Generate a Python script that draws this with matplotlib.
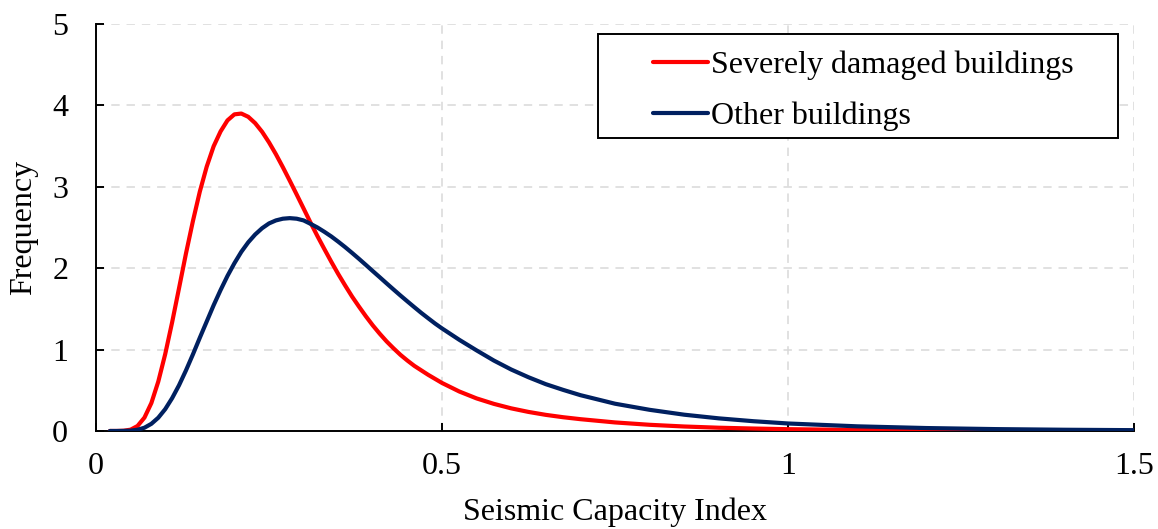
import matplotlib
matplotlib.use("Agg")
import matplotlib.pyplot as plt
from matplotlib.patches import Rectangle

plt.rcParams['font.family'] = ['Liberation Serif', 'DejaVu Serif']

# Seismic capacity index (x) and frequency curves for the two building groups
capacity_index = [0.02, 0.03, 0.04, 0.05, 0.06, 0.07, 0.08, 0.09, 0.10, 0.11,
                  0.12, 0.13, 0.14, 0.15, 0.16, 0.17, 0.18, 0.19, 0.20, 0.21,
                  0.22, 0.23, 0.24, 0.25, 0.26, 0.27, 0.28, 0.29, 0.30, 0.31,
                  0.32, 0.33, 0.34, 0.35, 0.36, 0.37, 0.38, 0.39, 0.40, 0.41,
                  0.42, 0.43, 0.44, 0.45, 0.46, 0.47, 0.48, 0.49, 0.50, 0.525,
                  0.55, 0.575, 0.60, 0.625, 0.65, 0.675, 0.70, 0.75, 0.80, 0.85,
                  0.90, 0.95, 1.00, 1.10, 1.20, 1.30, 1.40, 1.50]
severely_damaged = [0.0, 0.0, 0.003, 0.016, 0.061, 0.164, 0.343, 0.607, 0.944, 1.335,
                    1.755, 2.18, 2.577, 2.94, 3.248, 3.498, 3.68, 3.816, 3.89, 3.90,
                    3.86, 3.782, 3.676, 3.546, 3.40, 3.241, 3.075, 2.905, 2.733, 2.56,
                    2.394, 2.235, 2.079, 1.929, 1.788, 1.652, 1.528, 1.409, 1.297, 1.195,
                    1.10, 1.015, 0.935, 0.865, 0.80, 0.745, 0.69, 0.64, 0.59, 0.485,
                    0.40, 0.333, 0.278, 0.234, 0.198, 0.169, 0.145, 0.105, 0.076, 0.055,
                    0.040, 0.030, 0.022, 0.013, 0.008, 0.005, 0.003, 0.002]
other_buildings = [0.0, 0.0, 0.001, 0.004, 0.015, 0.040, 0.088, 0.163, 0.268, 0.403,
                   0.562, 0.744, 0.940, 1.145, 1.345, 1.545, 1.731, 1.905, 2.061, 2.201,
                   2.318, 2.414, 2.491, 2.550, 2.587, 2.608, 2.615, 2.608, 2.587, 2.545,
                   2.500, 2.447, 2.390, 2.326, 2.259, 2.188, 2.115, 2.040, 1.964, 1.889,
                   1.813, 1.738, 1.664, 1.592, 1.521, 1.451, 1.385, 1.32, 1.26, 1.12,
                   0.99, 0.865, 0.755, 0.66, 0.575, 0.505, 0.44, 0.335, 0.26, 0.20,
                   0.155, 0.12, 0.092, 0.057, 0.036, 0.023, 0.015, 0.010]

xticks = [0, 0.5, 1, 1.5]
xtick_labels = ['0', '0.5', '1', '1.5']
yticks = [0, 1, 2, 3, 4, 5]

fig = plt.figure(figsize=(11.58, 5.29), dpi=100)
ax = fig.add_axes([0.0829, 0.1853, 0.8964, 0.7693])

ax.plot(capacity_index, severely_damaged, color='#FF0000', lw=3.0,
        label='Severely damaged buildings', solid_capstyle='round',
        solid_joinstyle='round', zorder=3)
ax.plot(capacity_index, other_buildings, color='#002060', lw=3.0,
        label='Other buildings', solid_capstyle='round',
        solid_joinstyle='round', zorder=3)

ax.set_xlim(0, 1.5)
ax.set_ylim(0, 5)
ax.set_xticks(xticks)
ax.set_xticklabels(xtick_labels)
ax.set_yticks(yticks)

ax.grid(True, color='#d9d9d9', linestyle=(0, (5.5, 4.5)), lw=1.1, zorder=0)

for side in ['top', 'right']:
    ax.spines[side].set_visible(False)
for side in ['left', 'bottom']:
    ax.spines[side].set_linewidth(1.4)

ax.tick_params(axis='both', direction='in', length=6, width=1.4,
               labelsize=23)
ax.tick_params(axis='x', pad=15)
ax.tick_params(axis='y', pad=20)

ax.set_xlabel('Seismic Capacity Index', fontsize=23, labelpad=12)
ax.set_ylabel('Frequency', fontsize=23, labelpad=10)

# legend frame drawn separately so its padding can be set freely
ax.add_patch(Rectangle((0.4836, 0.72), 0.501, 0.2554, transform=ax.transAxes,
                       fill=True, facecolor='white', edgecolor='black',
                       lw=1.4, clip_on=False, zorder=4))
leg = ax.legend(loc='center', bbox_to_anchor=(0.7394, 0.836), frameon=False,
                fontsize=23, handlelength=1.7, handletextpad=0.1,
                labelspacing=0.68, borderpad=0)
leg.set_zorder(5)

fig.savefig('out.png', dpi=100)
